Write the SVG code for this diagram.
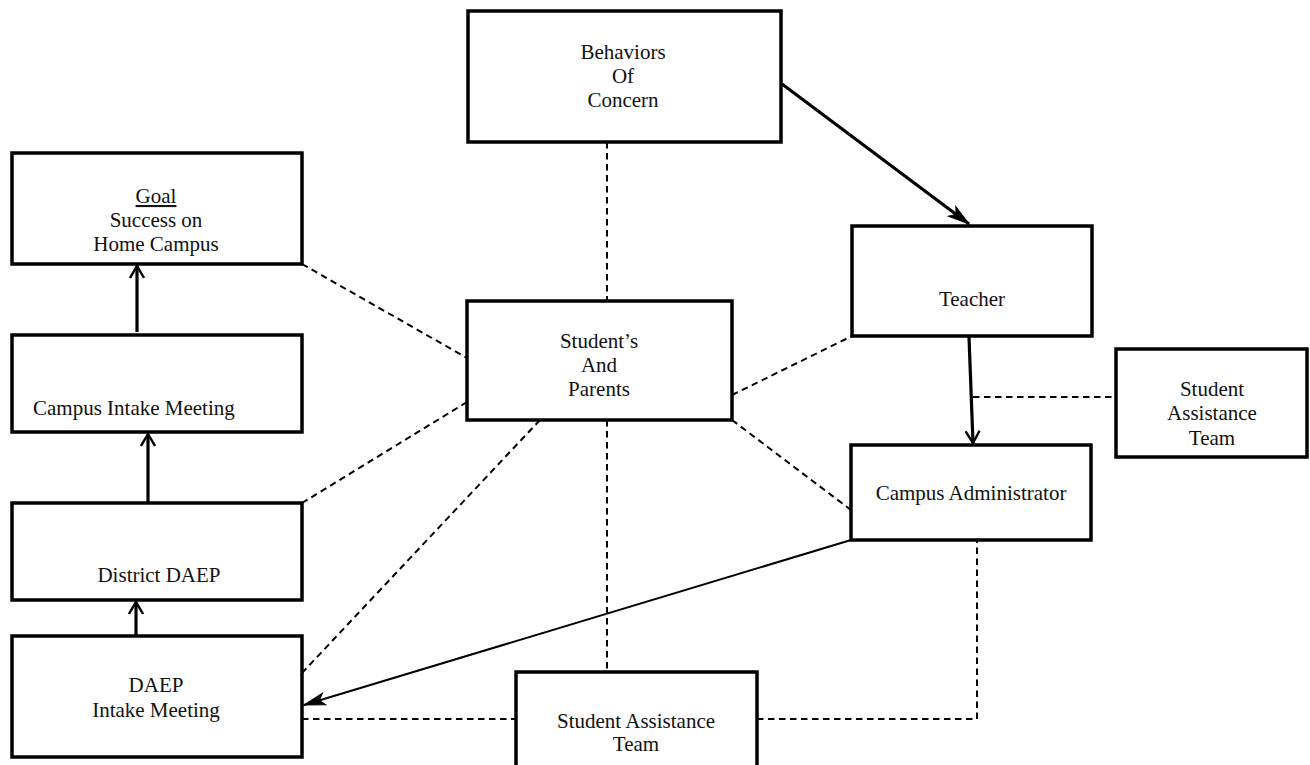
<svg xmlns="http://www.w3.org/2000/svg" width="1310" height="765" viewBox="0 0 1310 765">
<style>
.box{fill:#fff;stroke:#000;stroke-width:3.5}
.t{font-family:"Liberation Serif","Times New Roman",serif;font-size:21px;fill:#111;text-anchor:middle}
.d{fill:none;stroke:#000;stroke-width:2;stroke-dasharray:6.5 4.5}
.a{fill:none;stroke:#000;stroke-width:3.2}
.a2{fill:none;stroke:#000;stroke-width:2}
</style>
<defs>
<marker id="arr" viewBox="0 0 14 16" refX="13" refY="8" markerWidth="14" markerHeight="16" markerUnits="userSpaceOnUse" orient="auto">
<path d="M1,1 L13,8 L1,15" fill="none" stroke="#000" stroke-width="2.4"/>
</marker>
<marker id="arr2" viewBox="0 0 24 14" refX="23" refY="7" markerWidth="24" markerHeight="14" markerUnits="userSpaceOnUse" orient="auto">
<path d="M2,1 L23,7 L2,13 L7,7 Z" fill="#000" stroke="#000" stroke-width="1"/>
</marker>
</defs>
<rect width="1310" height="765" fill="#fff"/>
<g id="connectors">
<line class="d" x1="607" y1="142" x2="607" y2="301"/>
<line class="d" x1="607" y1="420" x2="607" y2="672"/>
<line class="d" x1="302" y1="264" x2="467" y2="358"/>
<line class="d" x1="467" y1="402" x2="302" y2="503"/>
<line class="d" x1="540" y1="420" x2="302" y2="673"/>
<line class="d" x1="732" y1="395" x2="852" y2="336"/>
<line class="d" x1="732" y1="420" x2="851" y2="510"/>
<line class="d" x1="973" y1="397" x2="1116" y2="397"/>
<line class="d" x1="302" y1="719" x2="516" y2="719"/>
<polyline class="d" points="757,719 977,719 977,540"/>
<line class="a" x1="137" y1="332" x2="137" y2="266" marker-end="url(#arr)"/>
<line class="a" x1="148" y1="503" x2="148" y2="434" marker-end="url(#arr)"/>
<line class="a" x1="136" y1="637" x2="136" y2="602" marker-end="url(#arr)"/>
<line class="a" x1="782" y1="84" x2="969" y2="224" marker-end="url(#arr2)"/>
<line class="a" x1="969" y1="337" x2="973" y2="443" marker-end="url(#arr)"/>
<line class="a2" x1="851" y1="540" x2="304" y2="705" marker-end="url(#arr2)"/>
</g>
<g id="behaviors">
<rect class="box" x="468" y="11" width="313" height="131"/>
<text class="t" x="623" y="59">Behaviors</text>
<text class="t" x="623" y="83">Of</text>
<text class="t" x="623" y="107">Concern</text>
</g>
<g id="goal">
<rect class="box" x="12" y="153" width="290" height="111"/>
<text class="t" x="156" y="203" text-decoration="underline">Goal</text>
<text class="t" x="156" y="227">Success on</text>
<text class="t" x="156" y="251">Home Campus</text>
</g>
<g id="campus-intake">
<rect class="box" x="12" y="335" width="290" height="97"/>
<text class="t" x="33" y="415" style="text-anchor:start">Campus Intake Meeting</text>
</g>
<g id="district-daep">
<rect class="box" x="12" y="503" width="290" height="97"/>
<text class="t" x="159" y="582">District DAEP</text>
</g>
<g id="daep-intake">
<rect class="box" x="12" y="636" width="290" height="121"/>
<text class="t" x="156" y="692">DAEP</text>
<text class="t" x="156" y="717">Intake Meeting</text>
</g>
<g id="students-parents">
<rect class="box" x="467" y="301" width="265" height="119"/>
<text class="t" x="599" y="348">Student’s</text>
<text class="t" x="599" y="372">And</text>
<text class="t" x="599" y="396">Parents</text>
</g>
<g id="teacher">
<rect class="box" x="852" y="226" width="240" height="110"/>
<text class="t" x="972" y="306">Teacher</text>
</g>
<g id="sat-right">
<rect class="box" x="1116" y="349" width="191" height="108"/>
<text class="t" x="1212" y="396">Student</text>
<text class="t" x="1212" y="420">Assistance</text>
<text class="t" x="1212" y="445">Team</text>
</g>
<g id="campus-admin">
<rect class="box" x="851" y="445" width="240" height="95"/>
<text class="t" x="971" y="500">Campus Administrator</text>
</g>
<g id="sat-bottom">
<rect class="box" x="516" y="672" width="241" height="100"/>
<text class="t" x="636" y="728">Student Assistance</text>
<text class="t" x="636" y="751">Team</text>
</g>
</svg>
